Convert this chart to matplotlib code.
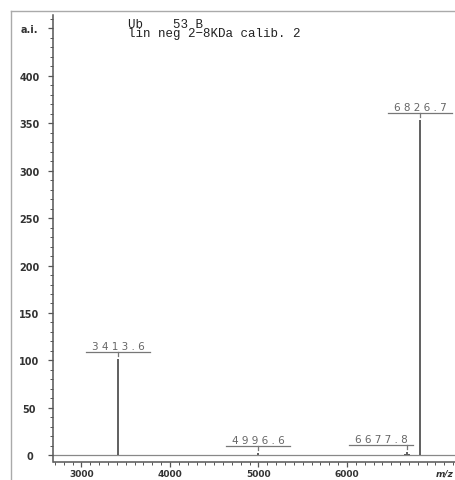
import numpy as np
import matplotlib
matplotlib.use("Agg")
import matplotlib.pyplot as plt
from matplotlib.lines import Line2D
from matplotlib.ticker import MultipleLocator

# spectrum sticks (m/z, intensity in a.i.)
peak_mz = [3413.6, 4996.6, 6655.0, 6677.8, 6700.0, 6826.7]
peak_int = [101.5, 2.0, 1.5, 3.0, 1.5, 353.0]

# labelled peaks
label_mz = [3413.6, 4996.6, 6677.8, 6826.7]
label_int = [101.5, 2.0, 3.0, 353.0]
label_text = ["3 4 1 3 . 6", "4 9 9 6 . 6", "6 6 7 7 . 8", "6 8 2 6 . 7"]

y_ticks = [0, 50, 100, 150, 200, 250, 300, 350, 400, 450]
y_ticklabels = ["0", "50", "100", "150", "200", "250", "300", "350", "400", "a.i."]
x_ticks = [3000, 4000, 5000, 6000]

title_lines = ["Ub    53 B", "lin neg 2\u22128KDa calib. 2"]

W, H = 456, 481
fig = plt.figure(figsize=(W / 100, H / 100), dpi=100)
ax_l, ax_b, ax_w, ax_h = 53.5, 18.3, 402.5, 446.7
ax = fig.add_axes([ax_l / W, ax_b / H, ax_w / W, ax_h / H])

xmin, xmax = 2684, 7232
ymin, ymax = -6.7, 464
ax.set_xlim(xmin, xmax)
ax.set_ylim(ymin, ymax)
px = ax_w / (xmax - xmin)   # pixels per m/z unit
py = ax_h / (ymax - ymin)   # pixels per a.i. unit

spine_col = "#555555"
for s in ["top", "right"]:
    ax.spines[s].set_visible(False)
for s in ["left", "bottom"]:
    ax.spines[s].set_color(spine_col)
    ax.spines[s].set_linewidth(1.1)

# baseline + sticks
ax.axhline(0, color="#888888", lw=0.9)
ax.vlines(peak_mz, 0, peak_int, color="#444444", lw=1.2)

# peak labels with underline and small tick
label_dx = [0, 0, -26, 0]
for mz, h, txt, dx in zip(label_mz, label_int, label_text, label_dx):
    yl = h + 7.5 / py
    ax.plot([mz + (dx - 32) / px, mz + (dx + 32) / px], [yl, yl], color="#777777", lw=0.9)
    ax.plot([mz, mz], [h + 3.0 / py, yl], color="#777777", lw=0.9)
    ax.text(mz + dx / px, h + 10.5 / py, txt, ha="center", va="baseline",
            fontsize=7.5, color="#666666")

# axes ticks
ax.set_yticks(y_ticks)
ax.set_yticklabels(y_ticklabels)
ax.yaxis.set_minor_locator(MultipleLocator(10))
ax.set_xticks(x_ticks)
ax.xaxis.set_minor_locator(MultipleLocator(100))
ax.tick_params(axis="y", which="major", length=3.6, width=0.9, color=spine_col,
               pad=13.7, labelsize=7, labelcolor="#333333")
ax.tick_params(axis="y", which="minor", length=2.0, width=0.7, color=spine_col)
ax.tick_params(axis="x", which="major", length=3.6, width=0.9, color=spine_col,
               pad=2.0, labelsize=6.5, labelcolor="#333333")
ax.tick_params(axis="x", which="minor", length=2.0, width=0.7, color=spine_col)
for lab in ax.get_yticklabels():
    lab.set_ha("center")
    lab.set_fontweight("bold")
for lab in ax.get_xticklabels():
    lab.set_fontweight("bold")

# title block
fig.text(128 / W, 1 - 29.5 / H, "\n".join(title_lines), family="Liberation Mono",
         fontsize=9, va="center", ha="left", linespacing=0.68, color="#222222")

fig.text(436 / W, 1 - 474 / H, "m/z", style="italic", fontweight="bold",
         fontsize=6.5, va="center", ha="left", color="#333333")

# scan border
fig.add_artist(Line2D([11 / W, 11 / W], [0, 1 - 12 / H], transform=fig.transFigure,
                      color="#aaaaaa", lw=1))
fig.add_artist(Line2D([11 / W, 1], [1 - 12 / H, 1 - 12 / H], transform=fig.transFigure,
                      color="#aaaaaa", lw=1))

fig.savefig("out.png", dpi=100)
